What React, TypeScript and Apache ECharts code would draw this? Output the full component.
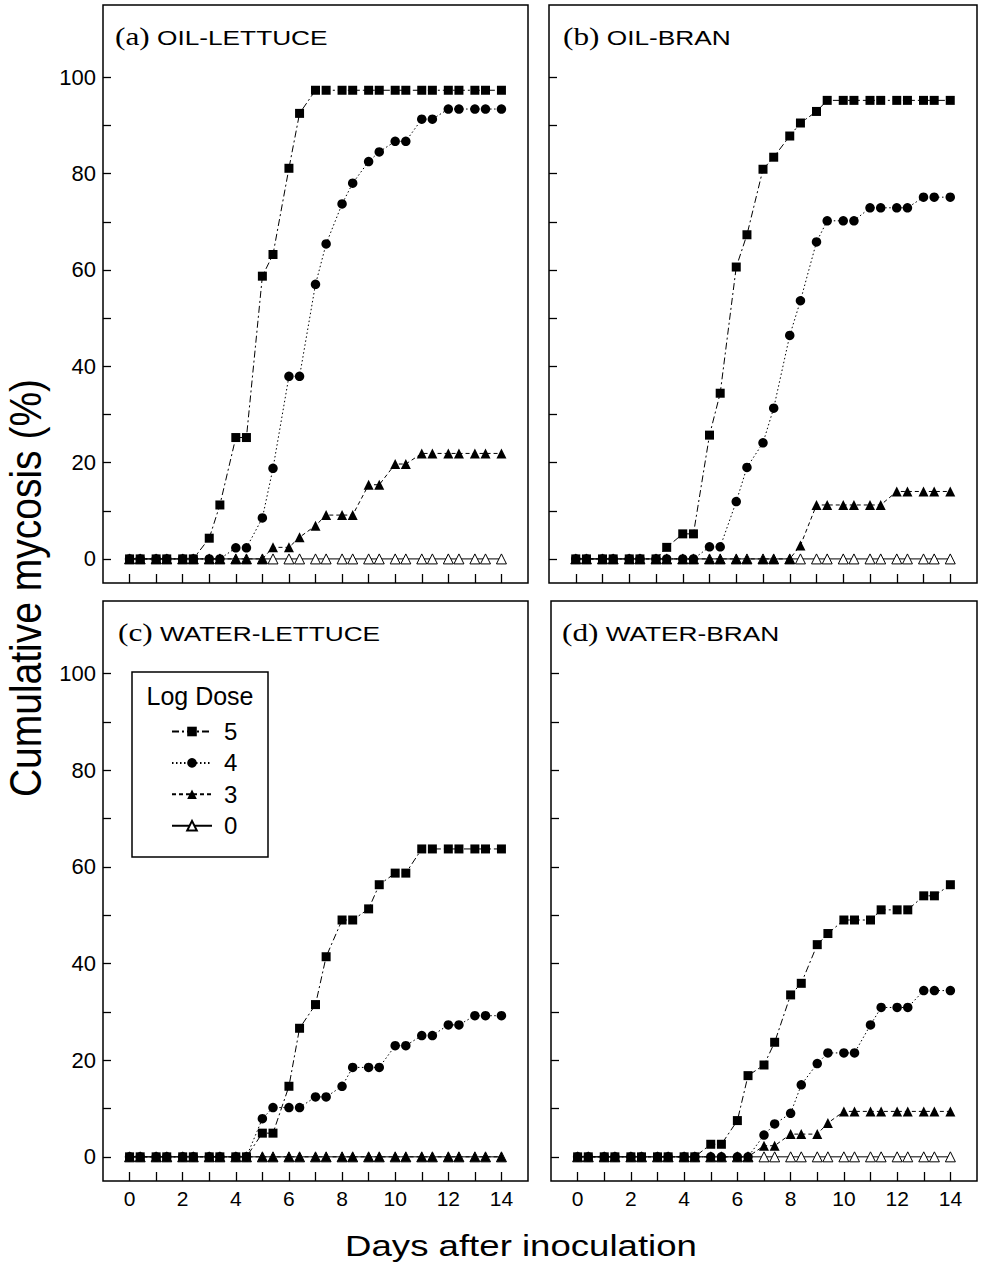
import React, { useEffect, useRef } from "react";
import * as echarts from "echarts";

// Sampling times (days after inoculation)
const days = [0, 0.4, 1, 1.4, 2, 2.4, 3, 3.4, 4, 4.4, 5, 5.4, 6, 6.4, 7, 7.4, 8, 8.4, 9, 9.4, 10, 10.4, 11, 11.4, 12, 12.4, 13, 13.4, 14];

const doseNames = ["5", "4", "3", "0"];
const panelTitles = [
  ["(a)", "OIL-LETTUCE"],
  ["(b)", "OIL-BRAN"],
  ["(c)", "WATER-LETTUCE"],
  ["(d)", "WATER-BRAN"],
];

// (a) OIL-LETTUCE
const oilLettuce5 = [0, 0, 0, 0, 0, 0, 4.3, 11.2, 25.2, 25.2, 58.7, 63.2, 81.1, 92.5, 97.3, 97.3, 97.3, 97.3, 97.3, 97.3, 97.3, 97.3, 97.3, 97.3, 97.3, 97.3, 97.3, 97.3, 97.3];
const oilLettuce4 = [0, 0, 0, 0, 0, 0, 0, 0, 2.3, 2.3, 8.5, 18.8, 37.9, 37.9, 57.0, 65.4, 73.7, 78.0, 82.5, 84.5, 86.7, 86.7, 91.3, 91.3, 93.4, 93.4, 93.4, 93.4, 93.4];
const oilLettuce3 = [0, 0, 0, 0, 0, 0, 0, 0, 0, 0, 0, 2.4, 2.4, 4.5, 6.9, 9.1, 9.1, 9.1, 15.4, 15.4, 19.7, 19.7, 21.9, 21.9, 21.9, 21.9, 21.9, 21.9, 21.9];
const oilLettuce0 = [0, 0, 0, 0, 0, 0, 0, 0, 0, 0, 0, 0, 0, 0, 0, 0, 0, 0, 0, 0, 0, 0, 0, 0, 0, 0, 0, 0, 0];

// (b) OIL-BRAN
const oilBran5 = [0, 0, 0, 0, 0, 0, 0, 2.4, 5.2, 5.2, 25.7, 34.4, 60.6, 67.3, 80.9, 83.4, 87.8, 90.5, 92.9, 95.2, 95.2, 95.2, 95.2, 95.2, 95.2, 95.2, 95.2, 95.2, 95.2];
const oilBran4 = [0, 0, 0, 0, 0, 0, 0, 0, 0, 0, 2.5, 2.5, 11.9, 19.0, 24.1, 31.3, 46.4, 53.6, 65.8, 70.2, 70.2, 70.2, 72.9, 72.9, 72.9, 72.9, 75.1, 75.1, 75.1];
const oilBran3 = [0, 0, 0, 0, 0, 0, 0, 0, 0, 0, 0, 0, 0, 0, 0, 0, 0, 2.8, 11.2, 11.2, 11.2, 11.2, 11.2, 11.2, 14.0, 14.0, 14.0, 14.0, 14.0];
const oilBran0 = [0, 0, 0, 0, 0, 0, 0, 0, 0, 0, 0, 0, 0, 0, 0, 0, 0, 0, 0, 0, 0, 0, 0, 0, 0, 0, 0, 0, 0];

// (c) WATER-LETTUCE
const waterLettuce5 = [0, 0, 0, 0, 0, 0, 0, 0, 0, 0, 4.9, 4.9, 14.6, 26.6, 31.5, 41.4, 49.0, 49.0, 51.3, 56.3, 58.7, 58.7, 63.7, 63.7, 63.7, 63.7, 63.7, 63.7, 63.7];
const waterLettuce4 = [0, 0, 0, 0, 0, 0, 0, 0, 0, 0, 7.9, 10.2, 10.2, 10.2, 12.4, 12.4, 14.6, 18.5, 18.5, 18.5, 23.0, 23.0, 25.1, 25.1, 27.3, 27.3, 29.2, 29.2, 29.2];
const waterLettuce3 = [0, 0, 0, 0, 0, 0, 0, 0, 0, 0, 0, 0, 0, 0, 0, 0, 0, 0, 0, 0, 0, 0, 0, 0, 0, 0, 0, 0, 0];
const waterLettuce0 = [0, 0, 0, 0, 0, 0, 0, 0, 0, 0, 0, 0, 0, 0, 0, 0, 0, 0, 0, 0, 0, 0, 0, 0, 0, 0, 0, 0, 0];

// (d) WATER-BRAN
const waterBran5 = [0, 0, 0, 0, 0, 0, 0, 0, 0, 0, 2.6, 2.6, 7.5, 16.8, 19.0, 23.7, 33.5, 35.9, 43.9, 46.2, 49.0, 49.0, 49.0, 51.1, 51.1, 51.1, 54.0, 54.0, 56.3];
const waterBran4 = [0, 0, 0, 0, 0, 0, 0, 0, 0, 0, 0, 0, 0, 0, 4.5, 6.8, 9.0, 14.9, 19.3, 21.5, 21.5, 21.5, 27.3, 30.9, 30.9, 30.9, 34.4, 34.4, 34.4];
const waterBran3 = [0, 0, 0, 0, 0, 0, 0, 0, 0, 0, 0, 0, 0, 0, 2.3, 2.3, 4.7, 4.7, 4.7, 7.0, 9.4, 9.4, 9.4, 9.4, 9.4, 9.4, 9.4, 9.4, 9.4];
const waterBran0 = [0, 0, 0, 0, 0, 0, 0, 0, 0, 0, 0, 0, 0, 0, 0, 0, 0, 0, 0, 0, 0, 0, 0, 0, 0, 0, 0, 0, 0];

const xTickValues = [0, 1, 2, 3, 4, 5, 6, 7, 8, 9, 10, 11, 12, 13, 14];
const xLabelValues = [0, 2, 4, 6, 8, 10, 12, 14];
const yTickValues = [0, 10, 20, 30, 40, 50, 60, 70, 80, 90, 100];
const yLabelValues = [0, 20, 40, 60, 80, 100];

const panelData: Record<string, number[]>[] = [
  { "5": oilLettuce5, "4": oilLettuce4, "3": oilLettuce3, "0": oilLettuce0 },
  { "5": oilBran5, "4": oilBran4, "3": oilBran3, "0": oilBran0 },
  { "5": waterLettuce5, "4": waterLettuce4, "3": waterLettuce3, "0": waterLettuce0 },
  { "5": waterBran5, "4": waterBran4, "3": waterBran3, "0": waterBran0 },
];

const SANS = "Liberation Sans, Arial, Helvetica, sans-serif";
const SERIF = "Liberation Serif, Times New Roman, serif";

const grids = [
  { left: 103, top: 5, width: 425, height: 578 },
  { left: 549, top: 5, width: 428, height: 578 },
  { left: 103, top: 601, width: 425, height: 580 },
  { left: 551, top: 601, width: 426, height: 580 },
];

const doseStyle: Record<string, any> = {
  "5": { symbol: "rect", symbolSize: 9, lineType: [7, 3, 2, 3], fill: "#000" },
  "4": { symbol: "circle", symbolSize: 9.5, lineType: [1.5, 2.5], fill: "#000" },
  "3": { symbol: "triangle", symbolSize: 10, lineType: [4, 3], fill: "#000" },
  "0": { symbol: "triangle", symbolSize: 10, lineType: "solid", fill: "#fff" },
};

export default function App() {
  const ref = useRef<HTMLDivElement>(null);
  useEffect(() => {
    if (!ref.current) return;
    const chart = echarts.init(ref.current, undefined, { renderer: "svg" });

    const xAxes = grids.map((_, i) => ({
      type: "value",
      gridIndex: i,
      min: -1,
      max: 15,
      axisLine: { show: false, onZero: false },
      splitLine: { show: false },
      axisTick: {
        show: true,
        inside: true,
        length: 9,
        customValues: xTickValues,
        lineStyle: { color: "#000", width: 1.3 },
      },
      axisLabel: {
        show: i >= 2,
        customValues: xLabelValues,
        margin: 7,
        color: "#000",
        fontSize: 21,
        fontFamily: SANS,
      },
    }));

    const yAxes = grids.map((_, i) => ({
      type: "value",
      gridIndex: i,
      min: -5,
      max: 115,
      axisLine: { show: false, onZero: false },
      splitLine: { show: false },
      axisTick: {
        show: true,
        inside: true,
        length: 8,
        customValues: yTickValues,
        lineStyle: { color: "#000", width: 1.3 },
      },
      axisLabel: {
        show: i === 0 || i === 2,
        customValues: yLabelValues,
        margin: 7,
        color: "#000",
        fontSize: 22,
        fontFamily: SANS,
      },
    }));

    const series: any[] = [];
    const drawOrder = ["0", "3", "4", "5"];
    panelData.forEach((pd, p) => {
      drawOrder.forEach((dose, k) => {
        const st = doseStyle[dose];
        series.push({
          type: "line",
          name: dose,
          xAxisIndex: p,
          yAxisIndex: p,
          data: days.map((d, i) => [d, pd[dose][i]]),
          symbol: st.symbol,
          symbolSize: st.symbolSize,
          showAllSymbol: true,
          z: 2 + k,
          lineStyle: { color: "#000", width: 1, type: st.lineType },
          itemStyle: { color: st.fill, borderColor: "#000", borderWidth: dose === "0" ? 1 : 0 },
          emphasis: { disabled: true },
          silent: true,
        });
      });
    });

    const graphics: any[] = [];
    const titlePos = [
      { x: 115, y: 37 },
      { x: 563, y: 37 },
      { x: 118, y: 633 },
      { x: 562, y: 633 },
    ];
    panelTitles.forEach((t, i) => {
      graphics.push({
        type: "text",
        x: titlePos[i].x,
        y: titlePos[i].y,
        scaleX: 1.25,
        z: 10,
        style: {
          text: `{p|${t[0]}} {t|${t[1]}}`,
          align: "left",
          verticalAlign: "middle",
          fill: "#000",
          rich: {
            p: { fontFamily: SERIF, fontSize: 25, fill: "#000" },
            t: { fontFamily: SANS, fontSize: 21, fill: "#000" },
          },
          fontFamily: SANS,
          fontSize: 21,
        },
      });
    });

    // legend box and title
    graphics.push({
      type: "rect",
      shape: { x: 132, y: 672, width: 136, height: 185 },
      z: 1,
      style: { fill: "#fff", stroke: "#000", lineWidth: 1.5 },
    });
    graphics.push({
      type: "text",
      x: 200,
      y: 696,
      z: 10,
      style: {
        text: "Log Dose",
        align: "center",
        verticalAlign: "middle",
        fontFamily: SANS,
        fontSize: 25,
        fill: "#000",
      },
    });

    // axis titles
    graphics.push({
      type: "text",
      x: 26,
      y: 588,
      rotation: Math.PI / 2,
      scaleY: 1.15,
      z: 10,
      style: {
        text: "Cumulative mycosis (%)",
        align: "center",
        verticalAlign: "middle",
        fontFamily: SANS,
        fontSize: 39,
        fill: "#000",
      },
    });
    graphics.push({
      type: "text",
      x: 521,
      y: 1246,
      scaleX: 1.22,
      z: 10,
      style: {
        text: "Days after inoculation",
        align: "center",
        verticalAlign: "middle",
        fontFamily: SANS,
        fontSize: 30,
        fill: "#000",
      },
    });

    chart.setOption({
      animation: false,
      backgroundColor: "#fff",
      grid: grids.map((g) => ({
        ...g,
        show: true,
        borderColor: "#000",
        borderWidth: 1.5,
        backgroundColor: "transparent",
        containLabel: false,
      })),
      xAxis: xAxes,
      yAxis: yAxes,
      legend: {
        data: doseNames,
        orient: "vertical",
        left: 166,
        top: 714.5,
        itemWidth: 40,
        itemHeight: 12,
        itemGap: 7.4,
        selectedMode: false,
        textStyle: {
          color: "#000",
          fontSize: 24,
          fontFamily: SANS,
          padding: [0, 0, 0, 7],
        },
      },
      graphic: graphics,
      series,
    });

    return () => chart.dispose();
  }, []);

  return (
    <div
      ref={ref}
      style={{ position: "absolute", left: 0, top: 0, width: 984, height: 1272, background: "#fff" }}
    />
  );
}
